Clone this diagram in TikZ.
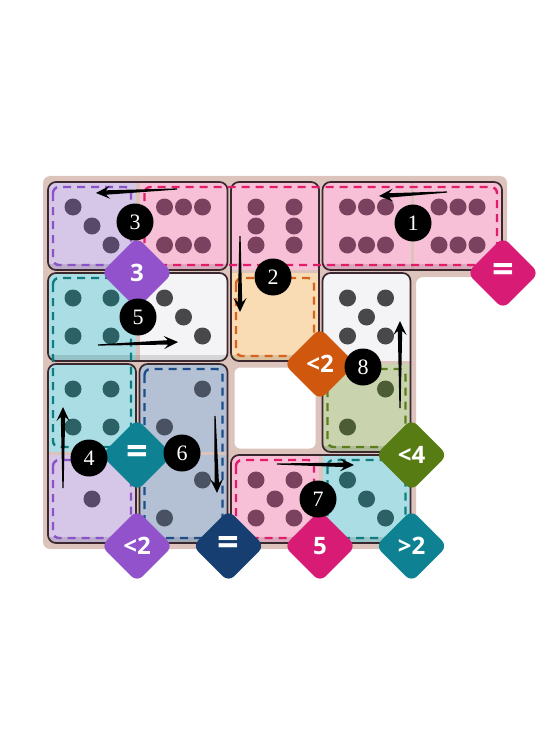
\documentclass[tikz,border=0pt]{standalone}
\usepackage{fontspec}
\usepackage{tikz}
\usetikzlibrary{shapes,arrows.meta,positioning,calc}
\newfontfamily\badgefont{Open Sans}
\newfontfamily\stepfont{Liberation Serif}
\definecolor{tanbg}{RGB}{220,196,189}
\definecolor{edge}{RGB}{58,40,46}
\definecolor{blankfill}{RGB}{244,244,246}
\definecolor{lavfill}{RGB}{214,198,232}
\definecolor{lavdash}{RGB}{138,84,200}
\definecolor{lavbadge}{RGB}{145,82,204}
\definecolor{pinkfill}{RGB}{247,192,214}
\definecolor{pinkdash}{RGB}{226,28,106}
\definecolor{pinkbadge}{RGB}{216,27,116}
\definecolor{tealfill}{RGB}{170,222,228}
\definecolor{tealdash}{RGB}{16,124,128}
\definecolor{tealbadge}{RGB}{14,130,146}
\definecolor{orangefill}{RGB}{250,220,180}
\definecolor{orangedash}{RGB}{214,100,30}
\definecolor{orangebadge}{RGB}{208,88,14}
\definecolor{navyfill}{RGB}{180,193,212}
\definecolor{navydash}{RGB}{30,78,138}
\definecolor{navybadge}{RGB}{22,62,112}
\definecolor{greenfill}{RGB}{201,212,174}
\definecolor{greendash}{RGB}{92,126,30}
\definecolor{greenbadge}{RGB}{88,124,20}
\definecolor{pinkpip}{RGB}{122,66,94}
\definecolor{lavpip}{RGB}{88,72,106}
\definecolor{tealpip}{RGB}{44,98,102}
\definecolor{blankpip}{RGB}{72,72,74}
\definecolor{greenpip}{RGB}{76,92,52}
\definecolor{navypip}{RGB}{72,82,98}
\tikzstyle{badge} = [diamond, aspect=1, minimum size=72pt, inner sep=0pt, rounded corners=8pt, text=white, font=\badgefont\bfseries\fontsize{24}{24}\selectfont]
\tikzstyle{eqbadge} = [badge, font=\badgefont\bfseries\fontsize{38}{38}\selectfont]
\tikzstyle{stepno} = [circle, fill=black, minimum size=37pt, inner sep=0pt, text=white, font=\stepfont\fontsize{22}{22}\selectfont]
\tikzstyle{region} = [line width=2.4pt, rounded corners=6pt, dash pattern=on 8pt off 6pt]
\tikzstyle{dominoedge} = [draw=edge, line width=1.7pt, rounded corners=8pt]
% domino: first cell, second cell, their colours
\newcommand\domino[4]{%
  \coordinate (dl) at ($(#1)+(-44,-44)$);
  \coordinate (dr) at ($(#2)+(44,44)$);
  \begin{scope}
    \clip[rounded corners=8pt] (dl) rectangle (dr);
    \fill[#3] (dl) rectangle ($(#1)+(44,44)$);
    \fill[#4] ($(#2)+(-44,-44)$) rectangle (dr);
    \fill[black, opacity=.12] ($(dl |- dr)+(0,-6)$) rectangle (dr);
  \end{scope}
  \draw[dominoedge] (dl) rectangle (dr);}
% pips: cell, colour, offsets
\newcommand\pips[3]{\foreach \dx/\dy in {#3} \fill[#2] ($(#1)+(\dx,\dy)$) circle (8.5);}
\newcommand\soln[2]{%
  \coordinate (hb) at ($(#2)!10pt!(#1)$);
  \coordinate (hw) at ($(#2)!14pt!(#1)$);
  \fill ($(#1)!0.6pt!90:(#2)$) -- ($(hb)!2.2pt!-90:(#1)$) -- ($(hw)!6.5pt!-90:(#1)$) -- (#2)
     -- ($(hw)!6.5pt!90:(#1)$) -- ($(hb)!2.2pt!90:(#1)$) -- ($(#1)!0.6pt!-90:(#2)$) -- cycle;}

\begin{document}
\begin{tikzpicture}[x=1pt, y=-1pt]
\useasboundingbox (0,0) rectangle (551,754);

% board =============================
\foreach \c in {0,...,4} \foreach \r in {0,...,3}
  \coordinate (c\c\r) at ({92+91.5*\c},{226+91*\r});
\fill[tanbg, rounded corners=7pt] (43,176) -- (507,176) -- (507,277) -- (416,277) -- (416,549) -- (43,549) -- cycle;
\fill[white, rounded corners=6pt] ($(c22)+(-40.5,-40.5)$) rectangle ($(c22)+(40.5,40.5)$);

% dominoes
\domino{c30}{c40}{pinkfill}{pinkfill}
\domino{c20}{c21}{pinkfill}{orangefill}
\domino{c00}{c10}{lavfill}{pinkfill}
\domino{c02}{c03}{tealfill}{lavfill}
\domino{c01}{c11}{tealfill}{blankfill}
\domino{c12}{c13}{navyfill}{navyfill}
\domino{c23}{c33}{pinkfill}{tealfill}
\domino{c31}{c32}{blankfill}{greenfill}

% regions
\draw[region, draw=pinkdash] ($(c10)+(-39,-39)$) rectangle ($(c40)+(39,39)$);
\draw[region, draw=lavdash] ($(c00)+(-39,-39)$) rectangle ($(c00)+(39,39)$);
\draw[region, draw=lavdash] ($(c03)+(-39,-39)$) rectangle ($(c03)+(39,39)$);
\draw[region, draw=tealdash] ($(c01)+(-39,-39)$) rectangle ($(c02)+(39,39)$);
\draw[region, draw=navydash] ($(c12)+(-39,-39)$) rectangle ($(c13)+(39,39)$);
\draw[region, draw=orangedash] ($(c21)+(-39,-39)$) rectangle ($(c21)+(39,39)$);
\draw[region, draw=greendash] ($(c32)+(-39,-39)$) rectangle ($(c32)+(39,39)$);
\draw[region, draw=pinkdash] ($(c23)+(-39,-39)$) rectangle ($(c23)+(39,39)$);
\draw[region, draw=tealdash] ($(c33)+(-39,-39)$) rectangle ($(c33)+(39,39)$);

% pips
\pips{c00}{lavpip}{-19/-19,0/0,19/19}
\pips{c10}{pinkpip}{-19/-19,0/-19,19/-19,-19/19,0/19,19/19}
\pips{c20}{pinkpip}{-19/-19,-19/0,-19/19,19/-19,19/0,19/19}
\pips{c30}{pinkpip}{-19/-19,0/-19,19/-19,-19/19,0/19,19/19}
\pips{c40}{pinkpip}{-19/-19,0/-19,19/-19,-19/19,0/19,19/19}
\pips{c01}{tealpip}{-19/-19,19/-19,-19/19,19/19}
\pips{c11}{blankpip}{-19/-19,0/0,19/19}
\pips{c31}{blankpip}{-19/-19,19/-19,0/0,-19/19,19/19}
\pips{c02}{tealpip}{-19/-19,19/-19,-19/19,19/19}
\pips{c12}{navypip}{19/-19,-19/19}
\pips{c32}{greenpip}{19/-19,-19/19}
\pips{c03}{lavpip}{0/0}
\pips{c13}{navypip}{19/-19,-19/19}
\pips{c23}{pinkpip}{-19/-19,19/-19,0/0,-19/19,19/19}
\pips{c33}{tealpip}{-19/-19,0/0,19/19}

% solution arrows
\coordinate (a1s) at (447,192); \coordinate (a1e) at (379,196);
\coordinate (a2s) at (240,236); \coordinate (a2e) at (240,312);
\coordinate (a3s) at (177,189); \coordinate (a3e) at (96,193);
\coordinate (a4s) at (63,488);  \coordinate (a4e) at (63,407);
\coordinate (a5s) at (98,345);  \coordinate (a5e) at (178,342);
\coordinate (a6s) at (215,416); \coordinate (a6e) at (217,493);
\coordinate (a7s) at (277,464); \coordinate (a7e) at (354,465);
\coordinate (a8s) at (400,408); \coordinate (a8e) at (400,321);
\foreach \k in {1,...,8} \soln{a\k s}{a\k e};

% constraints
\node[badge, fill=lavbadge] (kLavTop) at ($(c00)+(45,47)$) {3};
\node[eqbadge, fill=pinkbadge] (kPinkTop) at ($(c40)+(45,47)$) {=};
\node[badge, fill=orangebadge] (kOrange) at ($(c21)+(45,47)$) {<2};
\node[eqbadge, fill=tealbadge] (kTealLeft) at ($(c02)+(45,47)$) {=};
\node[badge, fill=greenbadge] (kGreen) at ($(c32)+(45,47)$) {<4};
\node[badge, fill=lavbadge] (kLavBot) at ($(c03)+(45,47)$) {<2};
\node[eqbadge, fill=navybadge] (kNavy) at ($(c13)+(45,47)$) {=};
\node[badge, fill=pinkbadge] (kPinkBot) at ($(c23)+(45,47)$) {5};
\node[badge, fill=tealbadge] (kTealBot) at ($(c33)+(45,47)$) {>2};

% step numbers
\node[stepno] (n1) at (413,223) {1};
\node[stepno] (n2) at (273,277) {2};
\node[stepno] (n3) at (135,222) {3};
\node[stepno] (n4) at (89,458) {4};
\node[stepno] (n5) at (138,317) {5};
\node[stepno] (n6) at (182,453) {6};
\node[stepno] (n7) at (318,499) {7};
\node[stepno] (n8) at (363,367) {8};

\end{tikzpicture}
\end{document}
